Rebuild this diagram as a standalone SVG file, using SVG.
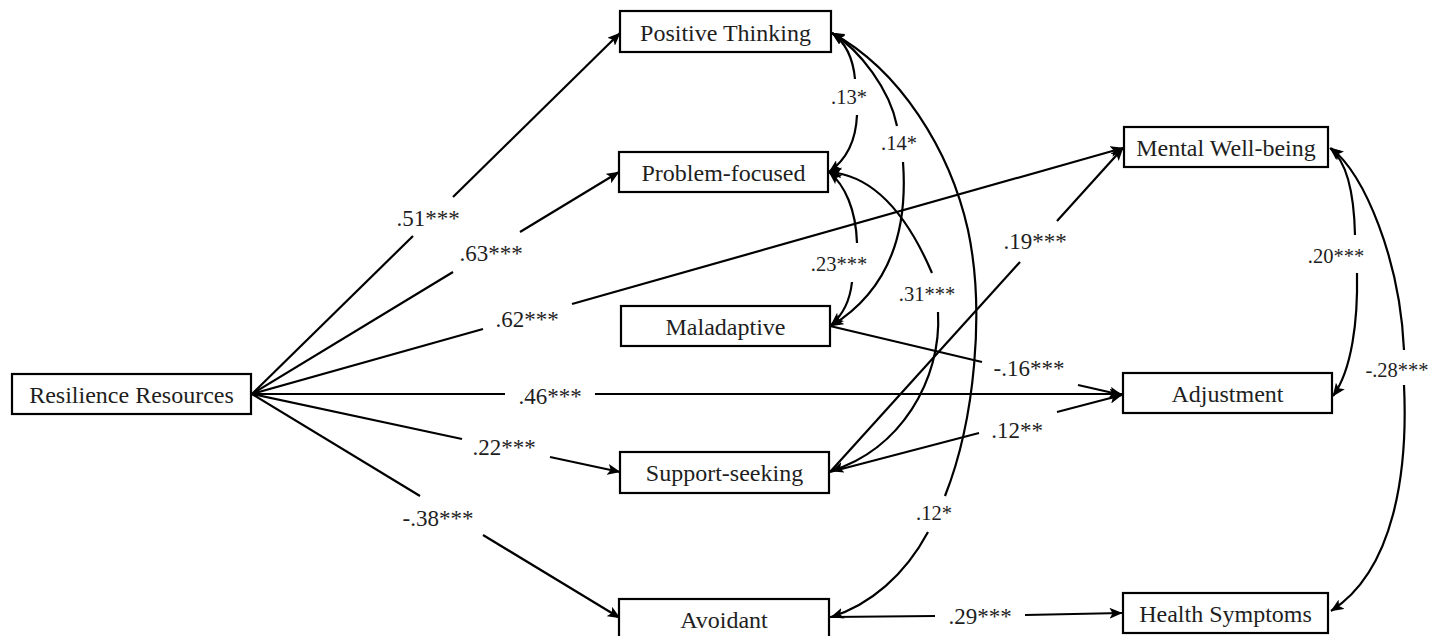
<svg xmlns="http://www.w3.org/2000/svg" width="1439" height="636" viewBox="0 0 1439 636">
<style>
.box{fill:#fff;stroke:#000;stroke-width:2.2}
.nt{font-family:"Liberation Serif","Times New Roman",serif;font-size:24px;fill:#1e1e1e;text-anchor:middle}
.c{fill:none;stroke:#000;stroke-width:2.2}
.pl{font-family:"Liberation Serif","Times New Roman",serif;font-size:23px;fill:#1e1e1e;text-anchor:middle}
.cl{font-family:"Liberation Serif","Times New Roman",serif;font-size:20.5px;fill:#1e1e1e;text-anchor:middle}
</style>
<defs>
<marker id="ah" viewBox="0 0 13 11" refX="12.5" refY="5.5" markerWidth="13" markerHeight="11" markerUnits="userSpaceOnUse" orient="auto-start-reverse">
<path d="M0,0 L13,5.5 L0,11 L3,5.5 z" fill="#000"/>
</marker>
</defs>
<rect width="1439" height="636" fill="#fff"/>
<g id="connectors">
<path class="c" d="M252,394 L413,236"/>
<path class="c" d="M453,197 L620,33" marker-end="url(#ah)"/>
<text class="pl" x="428" y="226">.51***</text>
<path class="c" d="M252,394 L453,272"/>
<path class="c" d="M520,232 L619,172" marker-end="url(#ah)"/>
<text class="pl" x="491" y="261">.63***</text>
<path class="c" d="M252,394 L483,329"/>
<path class="c" d="M572,304 L1123,148" marker-end="url(#ah)"/>
<text class="pl" x="527" y="327">.62***</text>
<path class="c" d="M252,394 L505,394"/>
<path class="c" d="M595,394 L1122,394" marker-end="url(#ah)"/>
<text class="pl" x="550" y="404">.46***</text>
<path class="c" d="M252,394 L462,439"/>
<path class="c" d="M550,457 L620,472" marker-end="url(#ah)"/>
<text class="pl" x="504" y="455">.22***</text>
<path class="c" d="M252,394 L420,496"/>
<path class="c" d="M483,535 L620,618" marker-end="url(#ah)"/>
<text class="pl" x="438" y="526">-.38***</text>
<path class="c" d="M830,326 L982,362"/>
<path class="c" d="M1078,385 L1122,395" marker-end="url(#ah)"/>
<text class="pl" x="1029" y="376">-.16***</text>
<path class="c" d="M830,472 L979,433"/>
<path class="c" d="M1057,412 L1122,395" marker-end="url(#ah)"/>
<text class="pl" x="1017" y="438">.12**</text>
<path class="c" d="M830,472 L1020,262"/>
<path class="c" d="M1057,221 L1123,148" marker-end="url(#ah)"/>
<text class="pl" x="1035" y="249">.19***</text>
<path class="c" d="M830,617 L935,616"/>
<path class="c" d="M1025,615 L1122,613" marker-end="url(#ah)"/>
<text class="pl" x="980" y="624">.29***</text>
<path class="c" d="M832,33 C845,42 853,58 855,79" marker-start="url(#ah)"/>
<path class="c" d="M857,115 C856,140 846,160 829,172" marker-end="url(#ah)"/>
<text class="cl" x="849" y="104">.13*</text>
<path class="c" d="M832,33 C860,50 890,90 897,126" marker-start="url(#ah)"/>
<path class="c" d="M903,162 C908,230 890,290 831,326" marker-end="url(#ah)"/>
<text class="cl" x="899" y="150">.14*</text>
<path class="c" d="M832,33 C900,70 950,150 968,230 C985,310 975,420 945,496" marker-start="url(#ah)"/>
<path class="c" d="M928,532 C905,575 870,605 831,617" marker-end="url(#ah)"/>
<text class="cl" x="934" y="520">.12*</text>
<path class="c" d="M829,172 C845,185 856,210 857,243" marker-start="url(#ah)"/>
<path class="c" d="M852,282 C850,300 843,315 831,325" marker-end="url(#ah)"/>
<text class="cl" x="839" y="271">.23***</text>
<path class="c" d="M829,172 C870,175 905,210 932,273" marker-start="url(#ah)"/>
<path class="c" d="M938,312 C942,380 900,450 831,471" marker-end="url(#ah)"/>
<text class="cl" x="927" y="301">.31***</text>
<path class="c" d="M1330,148 C1345,160 1354,190 1355,235" marker-start="url(#ah)"/>
<path class="c" d="M1357,273 C1358,320 1352,370 1333,396" marker-end="url(#ah)"/>
<text class="cl" x="1336" y="263">.20***</text>
<path class="c" d="M1331,148 C1365,175 1400,260 1404,350" marker-start="url(#ah)"/>
<path class="c" d="M1404,385 C1408,470 1395,570 1331,611" marker-end="url(#ah)"/>
<text class="cl" x="1397" y="377">-.28***</text>
</g>
<g id="node-resilience"><rect class="box" x="12" y="374" width="239" height="40"/><text class="nt" x="131.5" y="403">Resilience Resources</text></g>
<g id="node-positive"><rect class="box" x="620" y="11" width="211" height="41"/><text class="nt" x="725.5" y="41">Positive Thinking</text></g>
<g id="node-problem"><rect class="box" x="619" y="152" width="209" height="40"/><text class="nt" x="723.5" y="181">Problem-focused</text></g>
<g id="node-maladaptive"><rect class="box" x="621" y="306" width="209" height="40"/><text class="nt" x="725.5" y="335">Maladaptive</text></g>
<g id="node-support"><rect class="box" x="620" y="452" width="209" height="41"/><text class="nt" x="724.5" y="481">Support-seeking</text></g>
<g id="node-avoidant"><rect class="box" x="619" y="599" width="210" height="40"/><text class="nt" x="724" y="628">Avoidant</text></g>
<g id="node-wellbeing"><rect class="box" x="1124" y="127" width="204" height="40"/><text class="nt" x="1226" y="156">Mental Well-being</text></g>
<g id="node-adjustment"><rect class="box" x="1123" y="373" width="209" height="40"/><text class="nt" x="1227.5" y="402">Adjustment</text></g>
<g id="node-health"><rect class="box" x="1123" y="593" width="205" height="40"/><text class="nt" x="1225.5" y="622">Health Symptoms</text></g>
</svg>
